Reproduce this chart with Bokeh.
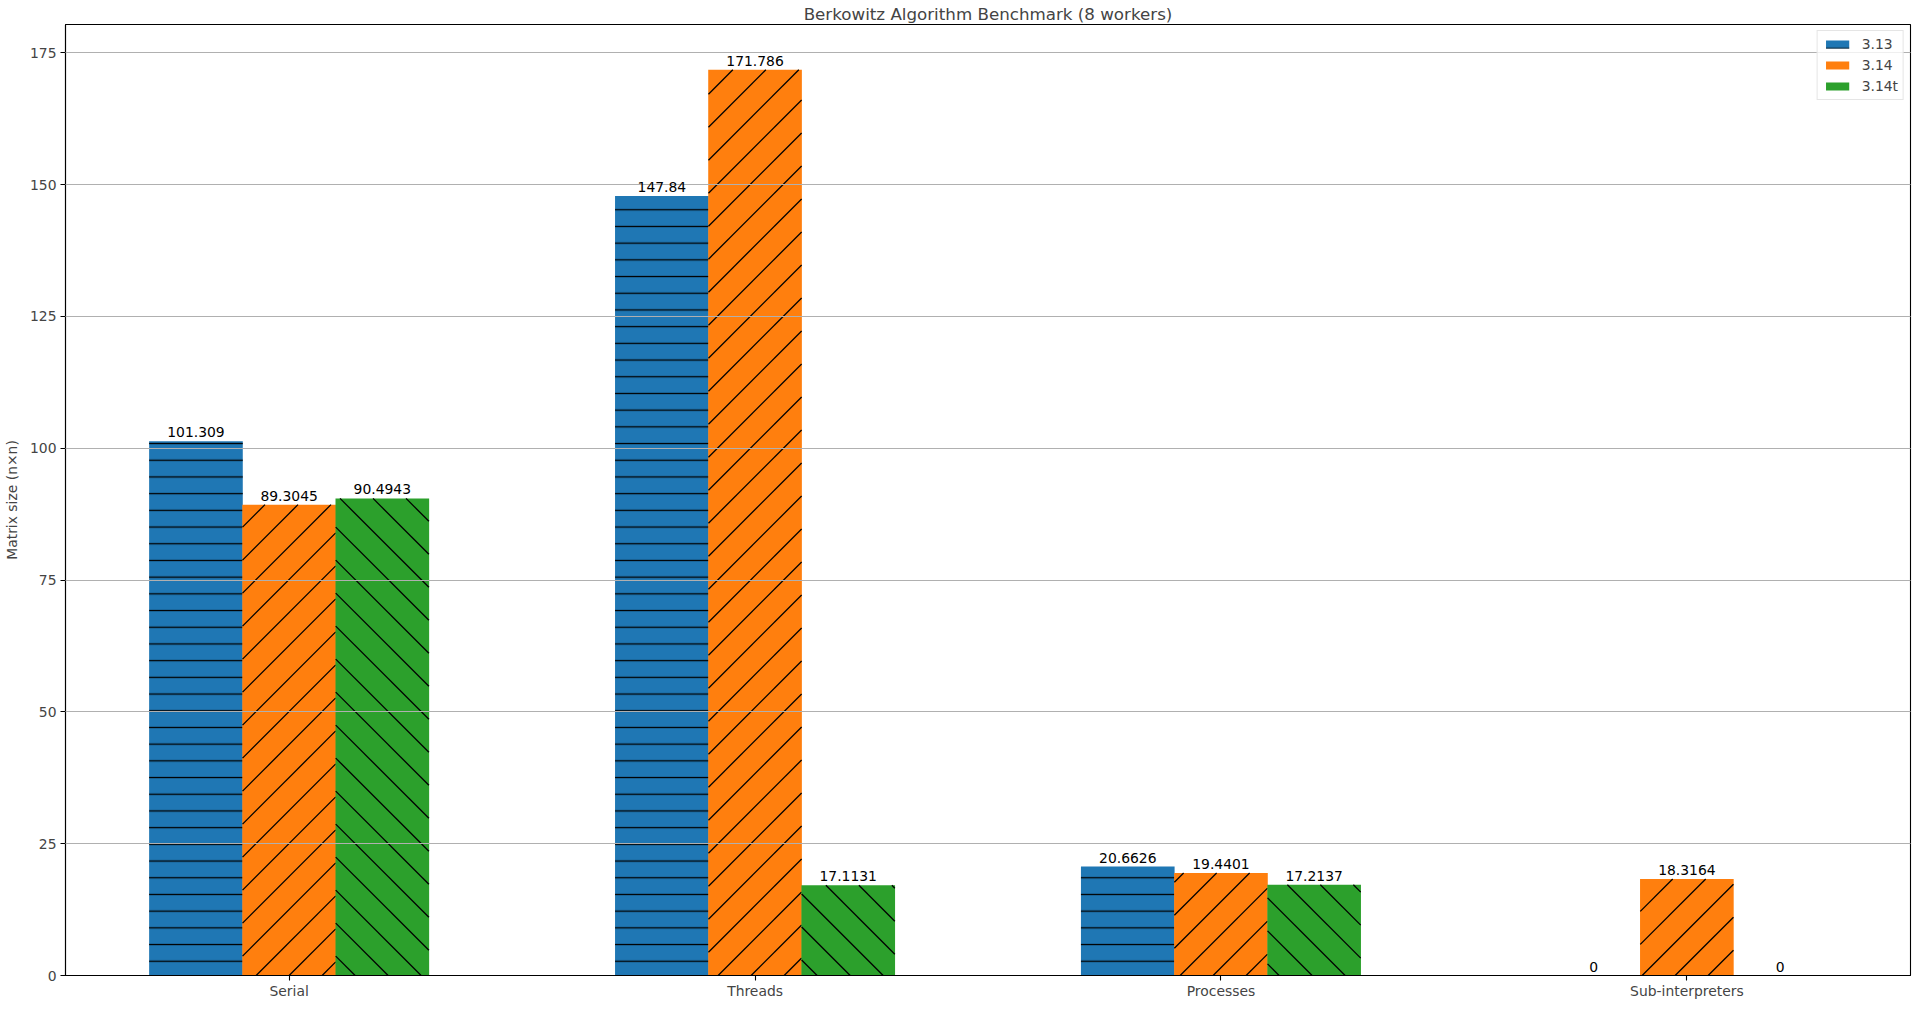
from bokeh.plotting import figure
from bokeh.models import ColumnDataSource, LabelSet, FixedTicker, Legend, LegendItem
from bokeh.core.properties import value
from bokeh.embed import file_html
from bokeh.resources import INLINE

categories = ["Serial", "Threads", "Processes", "Sub-interpreters"]
versions = ["3.13", "3.14", "3.14t"]
v313 = [101.309, 147.84, 20.6626, 0]
v314 = [89.3045, 171.786, 19.4401, 18.3164]
v314t = [90.4943, 17.1131, 17.2137, 0]
y_ticks = [0, 25, 50, 75, 100, 125, 150, 175]

colors = ["#1f77b4", "#ff7f0e", "#2ca02c"]
hatches = ["-", "/", "\\"]
offsets = [-0.2, 0.0, 0.2]
BAR_W = 0.2
X_RANGE = (-0.48, 3.48)
Y_RANGE = (0, 180.375)
FRAME_W, FRAME_H = 1845, 951
FONT = "DejaVu Sans"

# bokeh's own "/" hatch is steeper than 45 degrees, so the diagonal
# hatches are drawn as line segments clipped to each bar (in pixel space)
KX = FRAME_W / (X_RANGE[1] - X_RANGE[0])
KY = FRAME_H / (Y_RANGE[1] - Y_RANGE[0])
PERIOD = 33


def diag_hatch(xs, tops, direction):
    seg_x, seg_y = [], []
    for xc, top in zip(xs, tops):
        if top <= 0:
            continue
        X0, X1 = (xc - BAR_W / 2) * KX, (xc + BAR_W / 2) * KX
        Y0, Y1 = 0.0, top * KY
        lo = int((Y0 - X1) // PERIOD) - 1 if direction == "/" else int((X0 + Y0) // PERIOD) - 1
        hi = int((Y1 - X0) // PERIOD) + 2 if direction == "/" else int((X1 + Y1) // PERIOD) + 2
        for m in range(lo, hi):
            b = m * PERIOD
            if direction == "/":      # Y = X + b
                a, c = max(X0, Y0 - b), min(X1, Y1 - b)
                if c > a:
                    seg_x.append([a / KX, c / KX])
                    seg_y.append([(a + b) / KY, (c + b) / KY])
            else:                     # Y = -X + b
                a, c = max(X0, b - Y1), min(X1, b - Y0)
                if c > a:
                    seg_x.append([a / KX, c / KX])
                    seg_y.append([(b - a) / KY, (b - c) / KY])
    return seg_x, seg_y


p = figure(frame_width=FRAME_W, frame_height=FRAME_H,
           title="Berkowitz Algorithm Benchmark (8 workers)",
           x_range=X_RANGE, y_range=Y_RANGE,
           y_axis_label="Matrix size (n×n)",
           output_backend="svg", toolbar_location=None, tools="")
p.min_border_left = 50
p.min_border_right = 2
p.min_border_top = 0
p.min_border_bottom = 0

p.title.align = "center"
p.title.text_font = FONT
p.title.text_font_size = "16.7px"
p.title.text_font_style = "normal"
p.title.standoff = 2

p.outline_line_color = "black"
p.outline_line_width = 1.1
p.xgrid.visible = False
p.ygrid.grid_line_color = "#b0b0b0"
p.ygrid.grid_line_width = 1.1
p.ygrid.level = "annotation"

for ax in (p.xaxis[0], p.yaxis[0]):
    ax.axis_line_color = "black"
    ax.axis_line_width = 1.1
    ax.major_tick_out = 5
    ax.major_tick_in = 0
    ax.major_tick_line_width = 1.1
    ax.minor_tick_line_color = None
    ax.major_label_text_font = FONT
    ax.major_label_text_font_size = "13.9px"
    ax.major_label_standoff = 4
    ax.axis_label_text_font = FONT
    ax.axis_label_text_font_size = "13.9px"
    ax.axis_label_text_font_style = "normal"

p.xaxis.ticker = FixedTicker(ticks=list(range(len(categories))))
p.xaxis.major_label_overrides = {i: c for i, c in enumerate(categories)}
p.xaxis.major_label_standoff = 2
p.xaxis.axis_label = None
p.xaxis.axis_label_standoff = 0
p.yaxis.ticker = FixedTicker(ticks=y_ticks)
p.yaxis.axis_label_standoff = 7

items = []
for vals, name, col, hp, off in zip([v313, v314, v314t], versions, colors,
                                     hatches, offsets):
    xs = [i + off for i in range(len(categories))]
    src = ColumnDataSource(dict(x=xs, top=vals, label=[f"{v:g}" for v in vals]))
    if hp == "-":
        r = p.vbar(x="x", top="top", width=BAR_W + 0.001, source=src,
                   fill_color=col, line_color=None, hatch_pattern="-",
                   hatch_color="black", hatch_scale=16.7, hatch_weight=1.3)
    else:
        r = p.vbar(x="x", top="top", width=BAR_W + 0.001, source=src,
                   fill_color=col, line_color=None)
        hx, hy = diag_hatch(xs, vals, hp)
        p.multi_line(hx, hy, line_color="black", line_width=1.3)
    items.append(LegendItem(label=name, renderers=[r]))
    p.add_layout(LabelSet(x="x", y="top", text="label", source=src,
                          y_offset=4, text_align="center", text_baseline="bottom",
                          text_font=value(FONT), text_font_size=value("13.9px"),
                          text_color="black"))

legend = Legend(items=items, location="top_right")
legend.label_text_font = FONT
legend.label_text_font_size = "13.9px"
legend.glyph_width = 29
legend.glyph_height = 10
legend.label_height = 14
legend.label_standoff = 10
legend.spacing = 5
legend.padding = 5
legend.margin = 6
legend.border_line_color = "#cccccc"
legend.background_fill_alpha = 0.8
p.add_layout(legend)

open("out.html", "w").write(file_html(p, INLINE))
